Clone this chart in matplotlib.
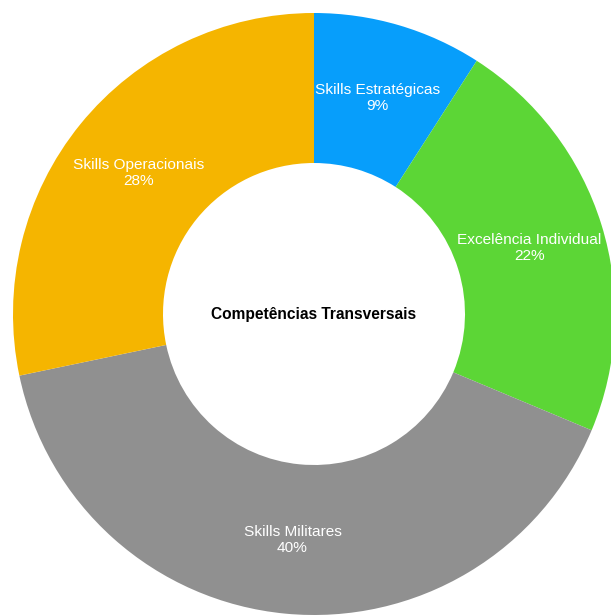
import matplotlib.pyplot as plt
import numpy as np

plt.rcParams['font.family'] = ['Liberation Sans', 'DejaVu Sans']

# Transversal skills breakdown (percent), clockwise from 12 o'clock
categorias = ['Skills Estratégicas', 'Excelência Individual', 'Skills Militares', 'Skills Operacionais']
valores = [9, 22, 40, 28]
cores = ['#079efb', '#5cd636', '#909090', '#f5b500']

fig = plt.figure(figsize=(6.11, 6.15), dpi=100)
ax = fig.add_axes([0, 0, 1, 1])

# work in pixel units so the ring sits where it should
cx, cy, r = 314, 615 - 314, 301
wedges, textos = ax.pie(
    valores, colors=cores, startangle=90, counterclock=False,
    center=(cx, cy), radius=r,
    wedgeprops=dict(width=r - 151, linewidth=0),
    frame=True,
)

# labels in the middle of each ring segment
total = sum(valores)
ang = 90.0
for cat, v in zip(categorias, valores):
    meio = np.deg2rad(ang - 360 * v / total / 2)
    ang -= 360 * v / total
    x = cx + 0.75 * r * np.cos(meio)
    y = cy + 0.75 * r * np.sin(meio) - 1
    ax.text(x, y, f'{cat}\n{v}%', color='white', fontsize=11.1,
            ha='center', va='center', linespacing=1.2)

ax.text(cx, cy, 'Competências Transversais', fontsize=11.2, fontweight='bold',
        ha='center', va='center', color='black')

ax.set_xlim(0, 611)
ax.set_ylim(0, 615)
ax.set_aspect('equal')
ax.axis('off')

fig.savefig('out.png', dpi=100)
